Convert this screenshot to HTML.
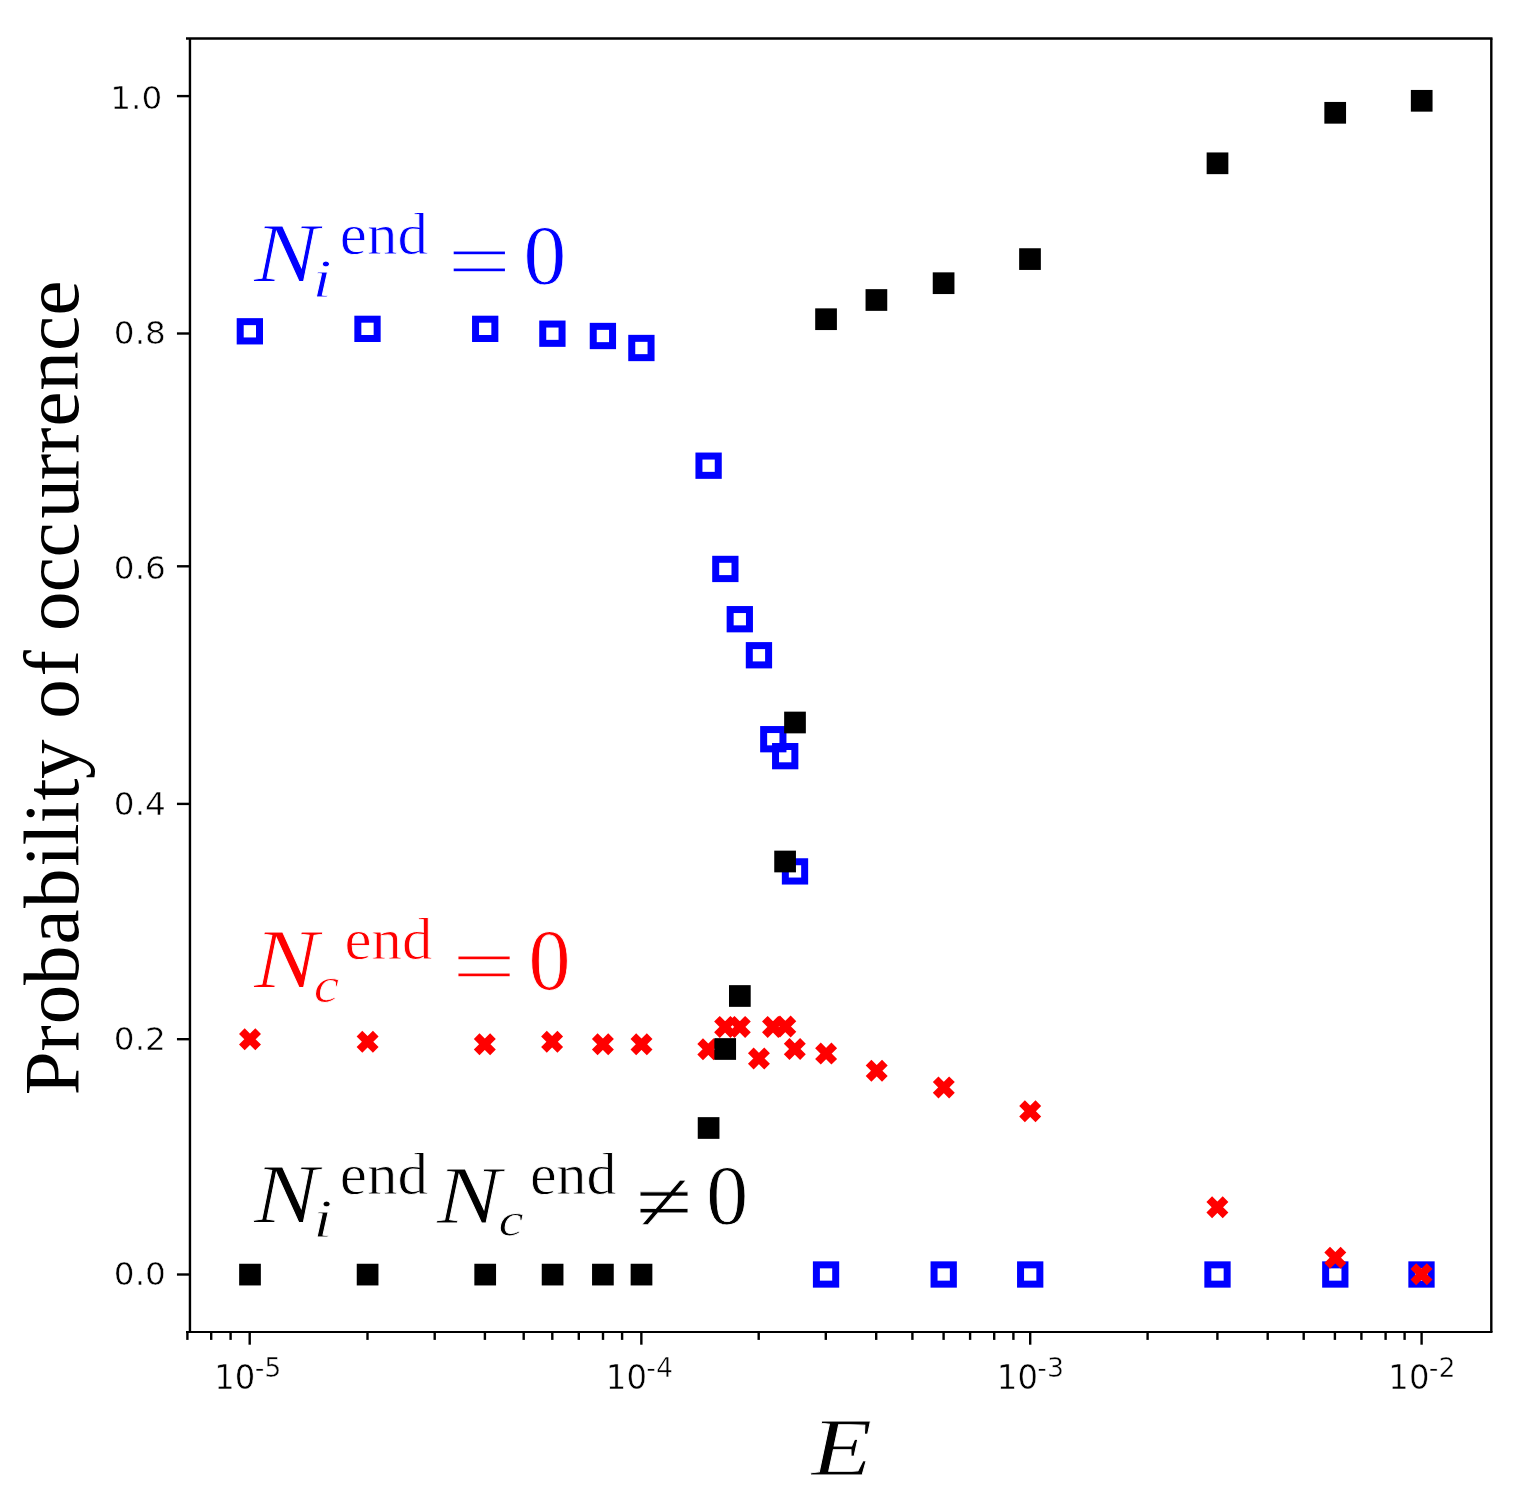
<!DOCTYPE html>
<html lang="en"><head><meta charset="utf-8"><title>Probability of occurrence vs E</title>
<style>
html,body{margin:0;padding:0;background:#fff;}
body{width:1518px;height:1504px;overflow:hidden;}
svg{display:block;}
.tk{font-family:"DejaVu Sans","Liberation Sans",sans-serif;}
.rm{font-family:"Liberation Serif","DejaVu Serif",serif;}
.it{font-family:"Liberation Serif","DejaVu Serif",serif;font-style:italic;}
</style></head><body>
<svg width="1518" height="1504" viewBox="0 0 1518 1504">
<rect x="0" y="0" width="1518" height="1504" fill="#fff"/>
<g id="series-blue" fill="none" stroke="#0000ff" stroke-width="7">
<rect x="240.2" y="321.65" width="19.3" height="19.3"/>
<rect x="357.85" y="319.2" width="19.3" height="19.3"/>
<rect x="475.55" y="319.2" width="19.3" height="19.3"/>
<rect x="542.75" y="324.05" width="19.3" height="19.3"/>
<rect x="593.25" y="326.35" width="19.3" height="19.3"/>
<rect x="631.75" y="338.35" width="19.3" height="19.3"/>
<rect x="698.95" y="456.05" width="19.3" height="19.3"/>
<rect x="715.7" y="559.3" width="19.3" height="19.3"/>
<rect x="730.15" y="609.55" width="19.3" height="19.3"/>
<rect x="749.3" y="645.6" width="19.3" height="19.3"/>
<rect x="763.65" y="729.55" width="19.3" height="19.3"/>
<rect x="775.55" y="746.5" width="19.3" height="19.3"/>
<rect x="785.35" y="861.75" width="19.3" height="19.3"/>
<rect x="816.4" y="1264.85" width="19.3" height="19.3"/>
<rect x="934.05" y="1264.85" width="19.3" height="19.3"/>
<rect x="1020.55" y="1264.85" width="19.3" height="19.3"/>
<rect x="1207.85" y="1264.85" width="19.3" height="19.3"/>
<rect x="1325.65" y="1264.85" width="19.3" height="19.3"/>
<rect x="1411.85" y="1264.85" width="19.3" height="19.3"/>
</g>
<g id="series-red" fill="none" stroke="#ff0000" stroke-width="8">
<path d="M241.85 1031.15L258.15 1047.45M241.85 1047.45L258.15 1031.15"/>
<path d="M359.45 1033.55L375.75 1049.85M359.45 1049.85L375.75 1033.55"/>
<path d="M476.65 1036.15L492.95 1052.45M476.65 1052.45L492.95 1036.15"/>
<path d="M543.95 1033.55L560.25 1049.85M543.95 1049.85L560.25 1033.55"/>
<path d="M594.75 1036.15L611.05 1052.45M594.75 1052.45L611.05 1036.15"/>
<path d="M633.35 1036.15L649.65 1052.45M633.35 1052.45L649.65 1036.15"/>
<path d="M700.15 1041.05L716.45 1057.35M700.15 1057.35L716.45 1041.05"/>
<path d="M716.95 1018.75L733.25 1035.05M716.95 1035.05L733.25 1018.75"/>
<path d="M731.65 1018.75L747.95 1035.05M731.65 1035.05L747.95 1018.75"/>
<path d="M750.8 1050.35L767.1 1066.65M750.8 1066.65L767.1 1050.35"/>
<path d="M764.85 1018.75L781.15 1035.05M764.85 1035.05L781.15 1018.75"/>
<path d="M777.15 1018.35L793.45 1034.65M777.15 1034.65L793.45 1018.35"/>
<path d="M786.65 1040.85L802.95 1057.15M786.65 1057.15L802.95 1040.85"/>
<path d="M817.95 1045.45L834.25 1061.75M817.95 1061.75L834.25 1045.45"/>
<path d="M868.55 1062.55L884.85 1078.85M868.55 1078.85L884.85 1062.55"/>
<path d="M935.65 1079.25L951.95 1095.55M935.65 1095.55L951.95 1079.25"/>
<path d="M1022.05 1103.15L1038.35 1119.45M1022.05 1119.45L1038.35 1103.15"/>
<path d="M1209.25 1199.15L1225.55 1215.45M1209.25 1215.45L1225.55 1199.15"/>
<path d="M1327.15 1249.55L1343.45 1265.85M1327.15 1265.85L1343.45 1249.55"/>
<path d="M1413.35 1266.05L1429.65 1282.35M1413.35 1282.35L1429.65 1266.05"/>
</g>
<g id="series-black" fill="#000">
<rect x="239.15" y="1263.75" width="21.7" height="21.7"/>
<rect x="356.75" y="1263.75" width="21.7" height="21.7"/>
<rect x="474.35" y="1263.75" width="21.7" height="21.7"/>
<rect x="541.75" y="1263.75" width="21.7" height="21.7"/>
<rect x="592.05" y="1263.75" width="21.7" height="21.7"/>
<rect x="630.65" y="1263.75" width="21.7" height="21.7"/>
<rect x="697.75" y="1117.15" width="21.7" height="21.7"/>
<rect x="714.35" y="1038.15" width="21.7" height="21.7"/>
<rect x="729" y="985.15" width="21.7" height="21.7"/>
<rect x="774.25" y="850.65" width="21.7" height="21.7"/>
<rect x="784.15" y="711.65" width="21.7" height="21.7"/>
<rect x="815.2" y="308.35" width="21.7" height="21.7"/>
<rect x="865.55" y="289.15" width="21.7" height="21.7"/>
<rect x="932.75" y="272.35" width="21.7" height="21.7"/>
<rect x="1019.15" y="248.25" width="21.7" height="21.7"/>
<rect x="1206.65" y="152.45" width="21.7" height="21.7"/>
<rect x="1324.35" y="101.95" width="21.7" height="21.7"/>
<rect x="1410.85" y="89.95" width="21.7" height="21.7"/>
</g>
<g id="frame" stroke="#000" fill="none">
<line x1="186" y1="38.5" x2="1492.5" y2="38.5" stroke-width="2.65"/>
<line x1="186" y1="1332" x2="1492.5" y2="1332" stroke-width="1.9"/>
<line x1="189.95" y1="38.5" x2="189.95" y2="1332" stroke-width="2.4"/>
<line x1="1491.3" y1="38.5" x2="1491.3" y2="1332" stroke-width="2.4"/>
</g>
<g id="ticks" stroke="#000" stroke-width="2.4">
<line x1="176.95" y1="96.1" x2="189.95" y2="96.1"/>
<line x1="176.95" y1="333.5" x2="189.95" y2="333.5"/>
<line x1="176.95" y1="566.3" x2="189.95" y2="566.3"/>
<line x1="176.95" y1="803.9" x2="189.95" y2="803.9"/>
<line x1="176.95" y1="1039.2" x2="189.95" y2="1039.2"/>
<line x1="176.95" y1="1274.5" x2="189.95" y2="1274.5"/>
<line x1="249.7" y1="1332" x2="249.7" y2="1344.7"/>
<line x1="641.35" y1="1332" x2="641.35" y2="1344.7"/>
<line x1="1030.2" y1="1332" x2="1030.2" y2="1344.7"/>
<line x1="1421.6" y1="1332" x2="1421.6" y2="1344.7"/>
<line x1="187.4" y1="1332" x2="187.4" y2="1339.9"/>
<line x1="211.2" y1="1332" x2="211.2" y2="1339.9"/>
<line x1="230.6" y1="1332" x2="230.6" y2="1339.9"/>
<line x1="367.5" y1="1332" x2="367.5" y2="1339.9"/>
<line x1="434.7" y1="1332" x2="434.7" y2="1339.9"/>
<line x1="484.9" y1="1332" x2="484.9" y2="1339.9"/>
<line x1="523.7" y1="1332" x2="523.7" y2="1339.9"/>
<line x1="552.3" y1="1332" x2="552.3" y2="1339.9"/>
<line x1="578.8" y1="1332" x2="578.8" y2="1339.9"/>
<line x1="603" y1="1332" x2="603" y2="1339.9"/>
<line x1="622.1" y1="1332" x2="622.1" y2="1339.9"/>
<line x1="758.7" y1="1332" x2="758.7" y2="1339.9"/>
<line x1="825.8" y1="1332" x2="825.8" y2="1339.9"/>
<line x1="876.2" y1="1332" x2="876.2" y2="1339.9"/>
<line x1="912.4" y1="1332" x2="912.4" y2="1339.9"/>
<line x1="943.6" y1="1332" x2="943.6" y2="1339.9"/>
<line x1="970.1" y1="1332" x2="970.1" y2="1339.9"/>
<line x1="994.2" y1="1332" x2="994.2" y2="1339.9"/>
<line x1="1013.4" y1="1332" x2="1013.4" y2="1339.9"/>
<line x1="1147.6" y1="1332" x2="1147.6" y2="1339.9"/>
<line x1="1217.4" y1="1332" x2="1217.4" y2="1339.9"/>
<line x1="1267.7" y1="1332" x2="1267.7" y2="1339.9"/>
<line x1="1303.7" y1="1332" x2="1303.7" y2="1339.9"/>
<line x1="1334.9" y1="1332" x2="1334.9" y2="1339.9"/>
<line x1="1361.4" y1="1332" x2="1361.4" y2="1339.9"/>
<line x1="1385.6" y1="1332" x2="1385.6" y2="1339.9"/>
<line x1="1404.6" y1="1332" x2="1404.6" y2="1339.9"/>
</g>
<g id="ann_blue">
<text class="it" fill="#0000ff" stroke="#fff" stroke-width="0.8" font-size="83.69" transform="translate(253.96 282.46) scale(1.1537 1)">N</text>
<text class="it" fill="#0000ff" stroke="#fff" stroke-width="0.8" font-size="55.12" transform="translate(312.58 296.66) scale(1.2500 1)">i</text>
<text class="rm" fill="#0000ff" stroke="#fff" stroke-width="0.8" font-size="60.03" transform="translate(339.8 253.76) scale(1.0171 1)">end</text>
<text class="rm" fill="#0000ff" stroke="#fff" stroke-width="1.4" font-size="84" transform="translate(447.08 289.53) scale(1.3620 1)">=</text>
<text class="rm" fill="#0000ff" stroke="#fff" stroke-width="0.8" font-size="85.66" transform="translate(523.44 283.5) scale(0.9977 1)">0</text>
</g>
<g id="ann_red">
<text class="it" fill="#ff0000" stroke="#fff" stroke-width="0.8" font-size="84.15" transform="translate(253.96 988.06) scale(1.1474 1)">N</text>
<text class="it" fill="#ff0000" stroke="#fff" stroke-width="0.8" font-size="50.88" transform="translate(313.82 1001.85) scale(1.1242 1)">c</text>
<text class="rm" fill="#ff0000" stroke="#fff" stroke-width="0.8" font-size="59.32" transform="translate(344.51 959.17) scale(1.0256 1)">end</text>
<text class="rm" fill="#ff0000" stroke="#fff" stroke-width="1.4" font-size="84.4" transform="translate(451.68 995.21) scale(1.3556 1)">=</text>
<text class="rm" fill="#ff0000" stroke="#fff" stroke-width="0.8" font-size="85.66" transform="translate(528.59 989.3) scale(0.9812 1)">0</text>
</g>
<g id="ann_black">
<text class="it" fill="#000000" stroke="#fff" stroke-width="0.8" font-size="83.69" transform="translate(253.96 1223.36) scale(1.1470 1)">N</text>
<text class="it" fill="#000000" stroke="#fff" stroke-width="0.8" font-size="54.82" transform="translate(313.19 1237.26) scale(1.2500 1)">i</text>
<text class="rm" fill="#000000" stroke="#fff" stroke-width="0.8" font-size="58.61" transform="translate(339.79 1194.37) scale(1.0442 1)">end</text>
<text class="it" fill="#000000" stroke="#fff" stroke-width="0.8" font-size="83.08" transform="translate(436.76 1223.26) scale(1.1555 1)">N</text>
<text class="it" fill="#000000" stroke="#fff" stroke-width="0.8" font-size="49" transform="translate(498.55 1236.47) scale(1.1520 1)">c</text>
<text class="rm" fill="#000000" stroke="#fff" stroke-width="0.8" font-size="58.61" transform="translate(529.94 1194.17) scale(1.0233 1)">end</text>
<text class="rm" fill="#000000" stroke="#fff" stroke-width="0.7" font-size="83.6" transform="translate(636.01 1230.24) scale(1.2347 1)">≠</text>
<text class="rm" fill="#000000" stroke="#fff" stroke-width="0.8" font-size="85.07" transform="translate(706.3 1224.31) scale(0.9852 1)">0</text>
</g>
<g id="xlabel">
<text class="it" fill="#000000" stroke="#fff" stroke-width="0.8" font-size="82.93" transform="translate(811.48 1475.16) scale(1.1953 1)">E</text>
</g>
<g id="ylab">
<text class="tk" fill="#000000" stroke="#fff" stroke-width="0.5" font-size="32.7" transform="translate(110.3 108.8) scale(1.0001 1)">1.0</text>
<text class="tk" fill="#000000" stroke="#fff" stroke-width="0.5" font-size="32.7" transform="translate(113.87 344.15) scale(1.0001 1)">0.8</text>
<text class="tk" fill="#000000" stroke="#fff" stroke-width="0.5" font-size="32.7" transform="translate(113.87 579.15) scale(1.0001 1)">0.6</text>
<text class="tk" fill="#000000" stroke="#fff" stroke-width="0.5" font-size="32.7" transform="translate(113.87 814.55) scale(1.0001 1)">0.4</text>
<text class="tk" fill="#000000" stroke="#fff" stroke-width="0.5" font-size="32.7" transform="translate(113.87 1049.55) scale(1.0001 1)">0.2</text>
<text class="tk" fill="#000000" stroke="#fff" stroke-width="0.5" font-size="32.7" transform="translate(113.87 1285.15) scale(1.0001 1)">0.0</text>
</g>
<g id="xlab">
<text class="tk" fill="#000000" stroke="#fff" stroke-width="0.5" font-size="33.5" transform="translate(214.2 1388.9) scale(0.9640 1)">10</text>
<text class="tk" fill="#000000" stroke="#fff" stroke-width="0.5" font-size="25.8" transform="translate(254.66 1376.7) scale(1.0400 1)">-5</text>
<text class="tk" fill="#000000" stroke="#fff" stroke-width="0.5" font-size="33.5" transform="translate(605.85 1388.9) scale(0.9640 1)">10</text>
<text class="tk" fill="#000000" stroke="#fff" stroke-width="0.5" font-size="25.8" transform="translate(646.31 1376.7) scale(1.0400 1)">-4</text>
<text class="tk" fill="#000000" stroke="#fff" stroke-width="0.5" font-size="33.5" transform="translate(996.85 1388.9) scale(0.9640 1)">10</text>
<text class="tk" fill="#000000" stroke="#fff" stroke-width="0.5" font-size="25.8" transform="translate(1037.31 1376.7) scale(1.0400 1)">-3</text>
<text class="tk" fill="#000000" stroke="#fff" stroke-width="0.5" font-size="33.5" transform="translate(1388.35 1388.9) scale(0.9640 1)">10</text>
<text class="tk" fill="#000000" stroke="#fff" stroke-width="0.5" font-size="25.8" transform="translate(1428.81 1376.7) scale(1.0400 1)">-2</text>
</g>
<text id="ylabel" class="rm" fill="#000" font-size="77.3" transform="translate(77.8 0) rotate(-90) scale(1.0220 1)" x="-1071.8 -1028.94 -1002.25 -963.72 -924.28 -888.37 -848.15 -826.97 -805.78 -783.28 -762.23 -722.78 -703.33 -661.96 -629.74 -617.51 -579.48 -545.52 -507.24 -469.74 -443.91 -417.25 -382.38 -343.52 -308.68" y="0">Probability of occurrence</text>
</svg>
</body></html>
